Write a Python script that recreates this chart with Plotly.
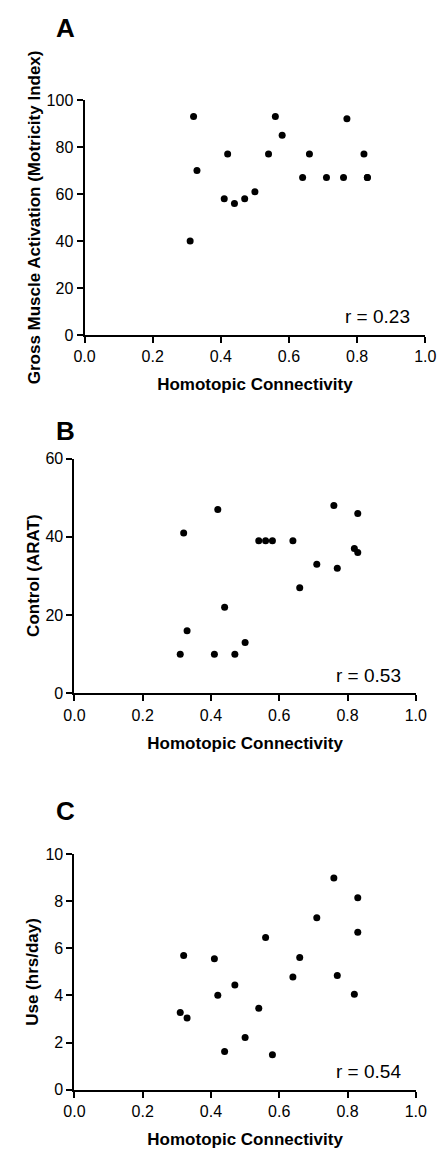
import plotly.graph_objects as go

# ---- data ----
x_conn = [0.31, 0.32, 0.33, 0.41, 0.42, 0.44, 0.47, 0.50, 0.54, 0.56, 0.58,
          0.64, 0.66, 0.71, 0.76, 0.77, 0.82, 0.83, 0.83]
motricity = [40, 93, 70, 58, 77, 56, 58, 61, 77, 93, 85,
             67, 77, 67, 67, 92, 77, 67, 67]
arat = [10, 41, 16, 10, 47, 22, 10, 13, 39, 39, 39,
        39, 27, 33, 48, 32, 37, 46, 36]
use_hrs = [3.28, 5.70, 3.04, 5.56, 4.01, 1.62, 4.44, 2.21, 3.46, 6.47, 1.48,
           4.79, 5.61, 7.30, 8.99, 4.85, 4.05, 8.16, 6.69]

panel_letters = ["A", "B", "C"]
y_titles = ["Gross Muscle Activation (Motricity Index)", "Control (ARAT)", "Use (hrs/day)"]
x_title = "Homotopic Connectivity"
r_labels = ["r = 0.23", "r = 0.53", "r = 0.54"]
y_ranges = [[0, 100], [0, 60], [0, 10]]
y_dticks = [20, 20, 2]
x_ticks = [0.0, 0.2, 0.4, 0.6, 0.8, 1.0]
x_ticktext = ["0.0", "0.2", "0.4", "0.6", "0.8", "1.0"]
series = [motricity, arat, use_hrs]

W, H = 448, 1155
# pixel boxes of the plot areas (left, right, top, bottom)
boxes = [(77.3, 435.7, 93.3, 332.0),
         (66.7, 425.7, 457.3, 695.7),
         (66.7, 425.7, 859.0, 1097.7)]
letter_pos = [(57, 20), (57, 429), (57, 815)]
ytitle_x = [25, 23, 23]

FONT = "Arial, Liberation Sans, Helvetica, sans-serif"

fig = go.Figure()
layout = dict(
    width=W, height=H,
    margin=dict(l=0, r=0, t=0, b=0),
    paper_bgcolor="white", plot_bgcolor="white",
    showlegend=False,
    font=dict(family=FONT, color="black"),
    annotations=[],
)

for i in range(3):
    l, r, t, b = boxes[i]
    xa = "xaxis" if i == 0 else f"xaxis{i+1}"
    ya = "yaxis" if i == 0 else f"yaxis{i+1}"
    xr = "x" if i == 0 else f"x{i+1}"
    yr = "y" if i == 0 else f"y{i+1}"
    fig.add_trace(go.Scatter(
        x=x_conn, y=series[i], mode="markers",
        marker=dict(color="black", size=7),
        xaxis=xr, yaxis=yr, cliponaxis=False,
    ))
    axis_common = dict(
        showgrid=False, zeroline=False, showline=True, linecolor="black",
        linewidth=2, ticks="outside", ticklen=6, tickwidth=2, tickcolor="black",
        tickfont=dict(family=FONT, size=16, color="black"),
    )
    layout[xa] = dict(
        axis_common,
        domain=[l / W, r / W], anchor=yr, range=[0, 1.0],
        tickmode="array", tickvals=x_ticks, ticktext=x_ticktext,
        title=dict(text="<b>" + x_title + "</b>", standoff=14,
                   font=dict(family=FONT, size=17, color="black")),
    )
    layout[ya] = dict(
        axis_common,
        domain=[1 - b / H, 1 - t / H], anchor=xr, range=y_ranges[i],
        tick0=0, dtick=y_dticks[i],
    )
    ymid = 1 - ((t + b) / 2) / H
    layout["annotations"].append(dict(
        text="<b>" + y_titles[i] + "</b>", textangle=-90,
        xref="paper", yref="paper", x=ytitle_x[i] / W, y=ymid,
        xanchor="center", yanchor="middle", showarrow=False,
        font=dict(family=FONT, size=17, color="black"),
    ))
    layout["annotations"].append(dict(
        text=r_labels[i], xref=f"{xr} domain", yref=f"{yr} domain",
        x=0.962, y=0.078, xanchor="right", yanchor="middle", showarrow=False,
        font=dict(family=FONT, size=19, color="black"),
    ))
    lx, ly = letter_pos[i]
    layout["annotations"].append(dict(
        text="<b>" + panel_letters[i] + "</b>", xref="paper", yref="paper",
        x=lx / W, y=1 - ly / H, xanchor="center", yanchor="middle",
        showarrow=False, font=dict(family=FONT, size=26, color="black"),
    ))

fig.update_layout(**layout)
fig.write_html("out.html")
